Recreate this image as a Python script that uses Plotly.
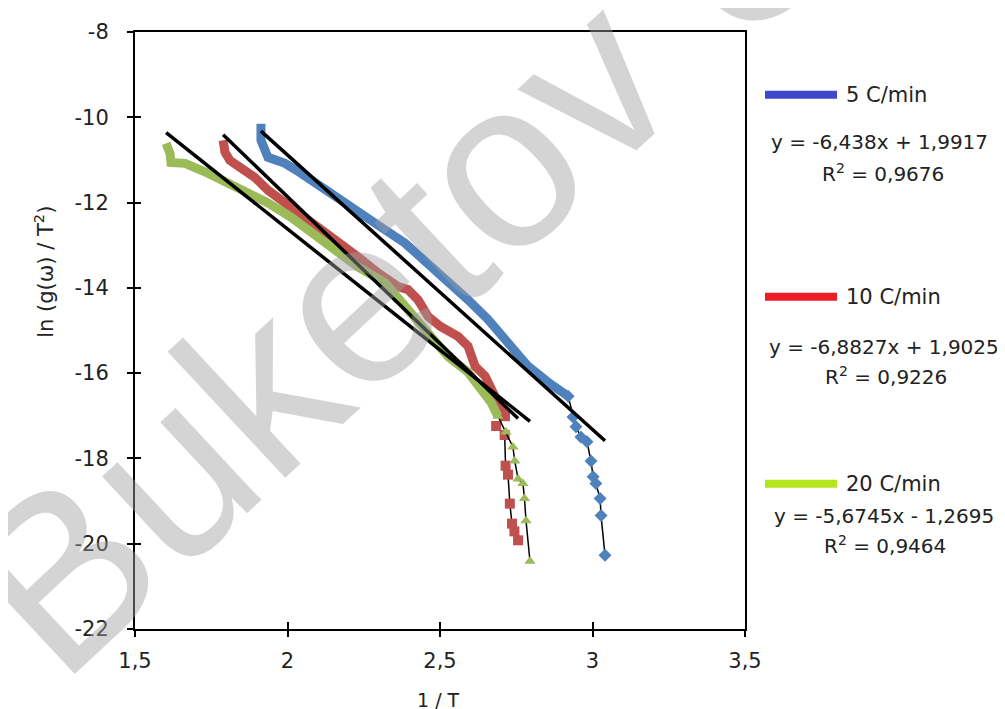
import plotly.graph_objects as go

# ---------------- data ----------------
series_names = ["5 C/min", "10 C/min", "20 C/min"]

# dense part of each curve (markers overlap into a continuous band)
blue_band_x = [1.913, 1.913, 1.936, 1.992, 2.044, 2.110, 2.188, 2.254, 2.320, 2.385, 2.451, 2.526, 2.592, 2.657, 2.723, 2.789, 2.854, 2.920]
blue_band_y = [-10.15, -10.54, -10.94, -11.08, -11.31, -11.64, -12.01, -12.34, -12.64, -12.95, -13.38, -13.80, -14.28, -14.74, -15.28, -15.84, -16.21, -16.54]
# sparse tail (individual markers visible)
blue_pts_x = [2.920, 2.936, 2.946, 2.962, 2.982, 2.995, 3.002, 3.011, 3.025, 3.028, 3.041]
blue_pts_y = [-16.54, -17.03, -17.26, -17.50, -17.61, -18.06, -18.43, -18.59, -18.94, -19.34, -20.27]

red_band_x = [1.789, 1.795, 1.811, 1.848, 1.893, 1.936, 1.992, 2.044, 2.100, 2.166, 2.231, 2.297, 2.362, 2.395, 2.428, 2.461, 2.503, 2.559, 2.592, 2.615, 2.648, 2.680, 2.700, 2.713]
red_band_y = [-10.54, -10.82, -11.01, -11.20, -11.41, -11.71, -12.01, -12.25, -12.57, -12.88, -13.27, -13.65, -13.97, -14.04, -14.28, -14.67, -14.91, -15.14, -15.37, -15.84, -16.07, -16.54, -16.84, -17.01]
red_pts_x = [2.713, 2.684, 2.712, 2.715, 2.723, 2.729, 2.736, 2.744, 2.756]
red_pts_y = [-17.01, -17.24, -17.45, -18.17, -18.38, -19.06, -19.53, -19.71, -19.92]

green_band_x = [1.602, 1.615, 1.618, 1.664, 1.739, 1.795, 1.861, 1.936, 2.011, 2.077, 2.156, 2.231, 2.320, 2.395, 2.461, 2.526, 2.592, 2.634, 2.667, 2.690]
green_band_y = [-10.61, -10.85, -11.06, -11.08, -11.31, -11.52, -11.71, -12.01, -12.34, -12.71, -13.11, -13.51, -13.88, -14.51, -15.14, -15.61, -15.98, -16.38, -16.68, -17.01]
green_pts_x = [2.690, 2.716, 2.739, 2.745, 2.756, 2.772, 2.777, 2.782, 2.795]
green_pts_y = [-17.01, -17.38, -17.73, -18.06, -18.48, -18.59, -18.94, -19.46, -20.41]

# linear trend lines (as printed on the chart)
slopes = [-6.438, -6.8827, -5.6745]
intercepts = [1.9917, 1.9025, -1.2695]
r_squared = ["0,9676", "0,9226", "0,9464"]

x_ticks = [1.5, 2, 2.5, 3, 3.5]
x_tick_labels = ["1,5", "2", "2,5", "3", "3,5"]
y_ticks = [-22, -20, -18, -16, -14, -12, -10, -8]
y_tick_labels = ["-22", "-20", "-18", "-16", "-14", "-12", "-10", "-8"]

x_title = "1 / T"
y_title = "ln (g(\u03c9) / T<sup>2</sup>)"
watermark = "Buketov U"

# ---------------- styles ----------------
series_colors = ["#4F81BD", "#C0504D", "#9BBB59"]
legend_colors = ["#3F48CC", "#ED1C24", "#B5E61D"]
symbols = ["diamond", "square", "triangle-up"]
FONT = "DejaVu Sans"

fig = go.Figure()

bands = [(blue_band_x, blue_band_y), (red_band_x, red_band_y), (green_band_x, green_band_y)]
pts = [(blue_pts_x, blue_pts_y), (red_pts_x, red_pts_y), (green_pts_x, green_pts_y)]

for i in range(3):
    bx, by = bands[i]
    px, py = pts[i]
    fig.add_trace(go.Scatter(x=bx, y=by, mode="lines",
                             line=dict(color=series_colors[i], width=9),
                             showlegend=False, hoverinfo="skip"))
    fig.add_trace(go.Scatter(x=px, y=py, mode="lines+markers",
                             line=dict(color="black", width=1.5),
                             marker=dict(symbol=symbols[i], size=10, color=series_colors[i]),
                             showlegend=False))

for i in range(3):
    allx = bands[i][0] + pts[i][0]
    x0, x1 = min(allx), max(allx)
    fig.add_trace(go.Scatter(x=[x0, x1],
                             y=[slopes[i] * x0 + intercepts[i], slopes[i] * x1 + intercepts[i]],
                             mode="lines", line=dict(color="black", width=3.5),
                             showlegend=False, hoverinfo="skip"))

# invisible trace for overlay axes (inner half of crossing ticks)
fig.add_trace(go.Scatter(x=[None], y=[None], xaxis="x2", yaxis="y2", showlegend=False))

axis_common = dict(showgrid=False, zeroline=False, showline=True, linecolor="black",
                   linewidth=2, mirror=True, ticks="outside", ticklen=6, tickwidth=1.5,
                   tickcolor="black", tickfont=dict(family=FONT, size=21, color="#222"))

fig.update_layout(
    width=1005, height=709,
    margin=dict(l=127, r=268, t=21, b=88),
    paper_bgcolor="white", plot_bgcolor="white",
    xaxis=dict(range=[1.5, 3.5], tickvals=x_ticks, ticktext=x_tick_labels,
               ticklabelstandoff=6, **axis_common),
    yaxis=dict(range=[-22, -8], tickvals=y_ticks, ticktext=y_tick_labels,
               ticklabelstandoff=14, **axis_common),
    xaxis2=dict(range=[1.5, 3.5], overlaying="x", anchor="y", side="bottom",
                tickvals=x_ticks, ticks="inside", ticklen=7, tickwidth=1.5, tickcolor="black",
                showticklabels=False, showgrid=False, zeroline=False, showline=False),
    yaxis2=dict(range=[-22, -8], overlaying="y", anchor="x", side="left",
                tickvals=y_ticks, ticks="inside", ticklen=6, tickwidth=1.5, tickcolor="black",
                showticklabels=False, showgrid=False, zeroline=False, showline=False),
    showlegend=False,
)

def px2paper_x(p):
    return (p - 127) / 610.0

def px2paper_y(p):
    return (621 - p) / 600.0

annotations = []
shapes = []

legend_line_y = [84, 287, 475]
eq_y = [132, 338, 507]
r2_y = [163, 367, 537]
eq_cx = [871, 876, 876]
r2_cx = [875, 878, 877]

for i in range(3):
    shapes.append(dict(type="line", xref="paper", yref="paper",
                       x0=px2paper_x(757), x1=px2paper_x(829),
                       y0=px2paper_y(legend_line_y[i]), y1=px2paper_y(legend_line_y[i]),
                       line=dict(color=legend_colors[i], width=8)))
    annotations.append(dict(xref="paper", yref="paper", x=px2paper_x(836),
                            y=px2paper_y(legend_line_y[i]), xanchor="left", yanchor="middle",
                            text=series_names[i], showarrow=False,
                            font=dict(family=FONT, size=21, color="#222")))
    s = f"{slopes[i]}".replace(".", ",")
    b = intercepts[i]
    sign = "+" if b >= 0 else "-"
    bs = f"{abs(b)}".replace(".", ",")
    eq = f"y = {s}x {sign} {bs}"
    annotations.append(dict(xref="paper", yref="paper", x=px2paper_x(eq_cx[i]),
                            y=px2paper_y(eq_y[i]), xanchor="center", yanchor="middle",
                            text=eq, showarrow=False,
                            font=dict(family=FONT, size=20, color="#222")))
    annotations.append(dict(xref="paper", yref="paper", x=px2paper_x(r2_cx[i]),
                            y=px2paper_y(r2_y[i]), xanchor="center", yanchor="middle",
                            text=f"R<sup>2</sup> = {r_squared[i]}", showarrow=False,
                            font=dict(family=FONT, size=20, color="#222")))

annotations.append(dict(xref="paper", yref="paper", x=px2paper_x(430), y=px2paper_y(692),
                        xanchor="center", yanchor="middle", text=x_title, showarrow=False,
                        font=dict(family=FONT, size=19, color="#222")))
annotations.append(dict(xref="paper", yref="paper", x=px2paper_x(36), y=px2paper_y(262),
                        xanchor="center", yanchor="middle", text=y_title, showarrow=False,
                        textangle=-90, font=dict(family=FONT, size=21, color="#222")))

annotations.append(dict(xref="paper", yref="paper", x=px2paper_x(398), y=px2paper_y(243),
                        xanchor="center", yanchor="middle", text=watermark, showarrow=False,
                        textangle=-43,
                        font=dict(family="Liberation Sans", size=238, color="rgba(160,160,160,0.45)")))

fig.update_layout(shapes=shapes, annotations=annotations)

fig.write_html("out.html")
